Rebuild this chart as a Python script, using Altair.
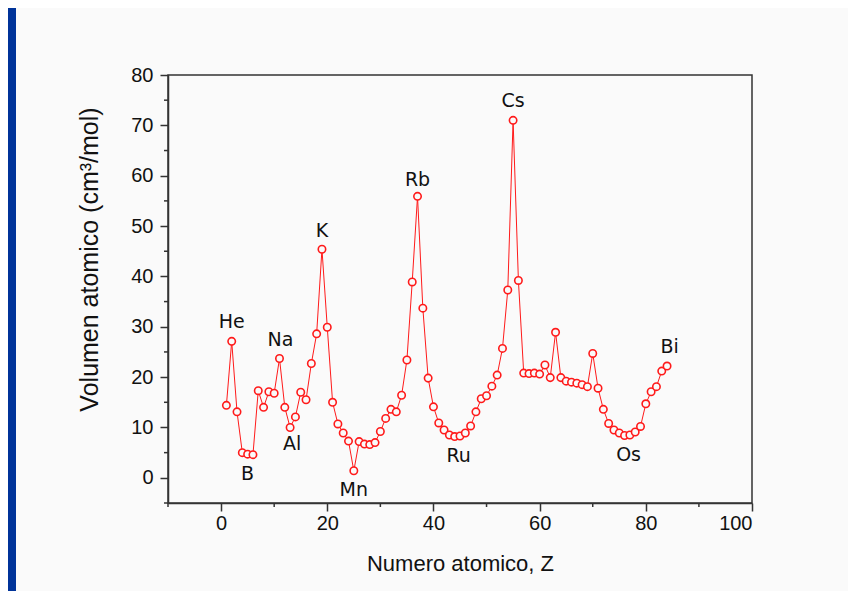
import altair as alt
import pandas as pd

# Atomic number Z = 1..84 and atomic volume (cm3/mol)
atomic_number = list(range(1, 85))
atomic_volume = [
    14.4, 27.1, 13.1, 5.0, 4.7, 4.6, 17.3, 14.0, 17.1, 16.8,
    23.7, 14.0, 10.0, 12.1, 17.0, 15.5, 22.7, 28.6, 45.4, 29.9,
    15.0, 10.7, 8.9, 7.3, 1.4, 7.2, 6.7, 6.6, 7.0, 9.2,
    11.8, 13.6, 13.1, 16.4, 23.4, 38.9, 55.9, 33.7, 19.8, 14.1,
    10.9, 9.5, 8.5, 8.2, 8.3, 8.9, 10.3, 13.1, 15.7, 16.3,
    18.2, 20.4, 25.7, 37.3, 71.0, 39.2, 20.8, 20.7, 20.8, 20.6,
    22.4, 19.9, 28.9, 19.9, 19.2, 19.0, 18.8, 18.5, 18.1, 24.7,
    17.8, 13.6, 10.8, 9.5, 8.9, 8.4, 8.5, 9.1, 10.2, 14.7,
    17.1, 18.1, 21.2, 22.2,
]

label_names = ["He", "B", "Na", "Al", "K", "Mn", "Rb", "Ru", "Cs", "Os", "Bi"]
label_z = [2, 5, 11, 13, 19, 25, 37, 44, 55, 76, 83]

# axis ticks
x_major = [0, 20, 40, 60, 80, 100]
x_minor = [-10, 10, 30, 50, 70, 90]
y_major = [0, 10, 20, 30, 40, 50, 60, 70, 80]
y_minor = [-5, 5, 15, 25, 35, 45, 55, 65, 75]

# text placement (pixels) relative to the labelled point
label_offsets = {
    "He": (0, -19), "B": (0, 20), "Na": (1, -18), "Al": (2, 17),
    "K": (0, -18), "Mn": (0, 19), "Rb": (0, -16), "Ru": (4, 19),
    "Cs": (0, -19), "Os": (4, 19), "Bi": (8, -24),
}

df = pd.DataFrame({"Z": atomic_number, "V": atomic_volume})
vol = dict(zip(atomic_number, atomic_volume))
df_lab = pd.DataFrame({"name": label_names, "Z": label_z,
                       "V": [vol[z] for z in label_z]})

RED = "#ff1a1a"
INK = "#333333"
AXFONT = "Liberation Sans"
W, H = 584, 428

x_scale = alt.Scale(domain=[-10, 100], nice=False, zero=False)
y_scale = alt.Scale(domain=[-5, 80], nice=False, zero=False)

x_enc = alt.X(
    "Z:Q", scale=x_scale,
    axis=alt.Axis(
        title="Numero atomico, Z", values=x_major, tickSize=8,
        labelPadding=2, labelOverlap=False, titleY=50, titleFontSize=22, grid=False,
    ),
)
y_enc = alt.Y(
    "V:Q", scale=y_scale,
    axis=alt.Axis(
        title="Volumen atomico (cm³/mol)", values=y_major, tickSize=8,
        labelPadding=7, labelOverlap=False, titleX=-66, titleY=184,
        titleFontSize=25, grid=False,
    ),
)

base = alt.Chart(df)
line = base.mark_line(color=RED, strokeWidth=1).encode(x=x_enc, y=y_enc)
points = base.mark_point(shape="circle", size=55, filled=False, fill="#fafafa",
                         fillOpacity=1, stroke=RED, strokeWidth=1.6, opacity=1).encode(
    x="Z:Q", y="V:Q")

texts = []
for name in label_names:
    dx, dy = label_offsets[name]
    texts.append(
        alt.Chart(df_lab).transform_filter(alt.datum.name == name)
        .mark_text(font="DejaVu Sans", fontSize=19, color="#111111", dx=dx, dy=dy)
        .encode(x="Z:Q", y="V:Q", text="name:N")
    )

xminor = alt.Chart(pd.DataFrame({"t": x_minor})).mark_rule(color=INK, strokeWidth=1.5).encode(
    x=alt.X("t:Q", scale=x_scale), y=alt.value(H), y2=alt.value(H + 4))
yminor = alt.Chart(pd.DataFrame({"t": y_minor})).mark_rule(color=INK, strokeWidth=1.5).encode(
    y=alt.Y("t:Q", scale=y_scale), x=alt.value(-4), x2=alt.value(0))

strip = alt.Chart(pd.DataFrame({"a": [0]})).mark_rect(color="#003399").encode(
    x=alt.value(-160), x2=alt.value(-152), y=alt.value(-67), y2=alt.value(520))

chart = alt.layer(line, points, *texts, xminor, yminor, strip).properties(
    width=W, height=H,
    autosize=alt.AutoSizeParams(type="none"),
    padding={"left": 160, "top": 67, "right": 96, "bottom": 88},
    background="#fafafa",
).configure_view(
    stroke=INK, strokeWidth=1.5
).configure_axis(
    domainColor=INK, domainWidth=1.5, tickColor=INK, tickWidth=1.5,
    labelFont=AXFONT, labelFontSize=20, labelColor="#111111",
    titleFont=AXFONT, titleColor="#111111", titleFontWeight="normal",
)

chart.save("out.html", embed_options={"renderer": "svg", "actions": False})
